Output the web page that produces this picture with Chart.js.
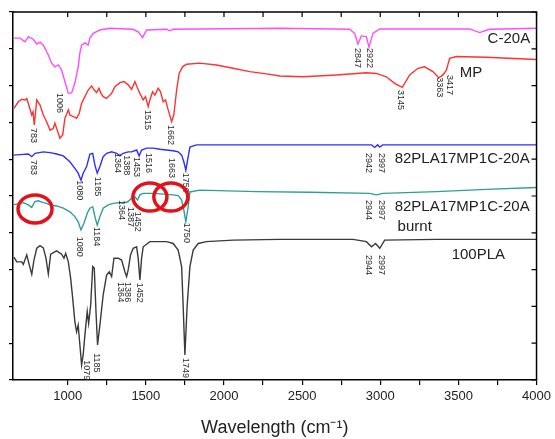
<!DOCTYPE html>
<html>
<head>
<meta charset="utf-8">
<script src="https://cdn.jsdelivr.net/npm/chart.js@4/dist/chart.umd.min.js"></script>
<style>
  html, body { margin: 0; padding: 0; background: #ffffff; }
  #wrap { width: 555px; height: 439px; }
</style>
</head>
<body>
<div id="wrap"><canvas id="c" width="555" height="439"></canvas></div>
<script>
// ---------- DATA (wavenumber, cm-1  /  offset transmittance, a.u.) ----------
const c20aWn = [656,695,727,748,780,802,823,844,876,897,918,940,961,982,1004,1025,1046,1067,1078,1089,1110,1131,1142,1163,1206,1270,1419,1451,1479,1505,1633,1654,1673,2357,2804,2836,2857,2879,2911,2928,2953,2996,3572,3636,3700,3998];
const c20aT  = [92.9,92.9,91.9,93.3,92.6,91.3,91.8,91.0,88.3,86.1,85.1,85.6,84.2,81.1,77.9,78.0,80.7,85.1,88.9,91.0,91.6,91.0,92.9,94.2,95.1,95.6,95.3,94.6,93.1,95.1,95.3,94.9,95.3,95.6,95.3,94.2,91.3,93.5,93.3,90.4,94.2,95.4,95.4,94.4,95.3,95.6];

const mpWn = [656,684,706,727,738,754,770,778,786,802,823,844,865,887,908,918,933,950,968,982,1004,1014,1036,1057,1074,1089,1110,1131,1153,1170,1185,1200,1213,1227,1249,1281,1302,1334,1360,1387,1409,1430,1445,1462,1483,1498,1515,1526,1543,1558,1579,1594,1611,1626,1643,1665,1679,1697,1713,1735,1760,1845,1952,2058,2165,2272,2357,2506,2719,2911,2975,3039,3092,3141,3188,3241,3284,3337,3375,3401,3423,3444,3487,3678,3998];
const mpT  = [73.8,75.6,76.3,76.1,76.5,74.3,72.0,72.9,69.3,76.1,74.7,72.0,70.2,67.9,68.4,69.8,67.9,65.7,66.6,71.1,73.4,72.0,71.6,71.1,72.5,75.2,77.0,78.8,79.9,78.8,78.1,79.3,77.9,77.0,76.5,77.9,79.7,80.8,81.1,80.2,79.0,81.1,79.5,77.9,76.1,77.0,74.3,76.1,78.3,77.4,79.3,78.3,75.6,76.1,73.4,70.2,72.0,78.8,83.3,85.1,85.8,86.1,85.6,84.7,83.8,83.2,82.6,82.4,82.9,83.5,83.3,82.4,80.6,79.5,82.9,84.7,85.1,83.8,82.1,82.9,84.2,87.4,87.9,87.7,87.1];

const blendWn = [652,716,748,770,791,844,887,929,972,1014,1046,1067,1085,1099,1121,1142,1160,1174,1189,1206,1227,1249,1281,1313,1334,1355,1387,1409,1441,1457,1473,1505,1547,1590,1633,1675,1707,1729,1743,1756,1771,1782,1824,2485,2945,2964,2983,2996,3016,3998];
const blendT  = [61.1,61.3,61.4,60.7,61.6,62.0,61.8,61.4,60.9,59.3,57.5,56.2,54.3,56.2,58.0,61.4,61.6,58.4,56.2,58.0,60.7,61.6,62.0,61.6,60.9,61.6,62.0,62.0,62.5,60.9,62.5,63.0,63.0,62.7,62.5,62.3,62.0,61.1,59.3,57.0,60.7,63.3,63.9,63.9,63.9,63.2,63.9,63.3,63.9,63.9];

const burntWn = [652,716,748,770,791,812,844,865,887,929,972,1014,1046,1067,1085,1104,1125,1142,1160,1174,1189,1206,1227,1259,1291,1323,1355,1387,1409,1430,1447,1462,1483,1547,1611,1675,1707,1729,1743,1756,1771,1782,1845,2208,2549,2932,2975,3017,3359,3678,3998];
const burntT  = [47.6,48.2,47.6,46.9,48.5,48.7,48.2,48.0,47.6,47.3,46.7,45.7,44.4,43.0,40.8,42.6,45.3,46.7,47.1,44.4,42.1,44.4,46.7,47.6,48.0,48.2,48.0,48.5,49.4,49.8,48.9,50.3,50.7,50.7,50.5,50.3,50.1,48.9,46.2,43.0,47.1,51.1,51.6,51.2,51.0,50.7,50.3,50.7,51.2,51.8,52.3];

const plaWn = [656,674,706,716,738,754,770,784,802,823,844,861,876,891,929,961,976,987,1004,1019,1032,1046,1057,1067,1078,1089,1099,1110,1125,1134,1147,1160,1170,1181,1191,1206,1227,1249,1266,1281,1296,1323,1345,1366,1377,1387,1402,1419,1441,1451,1462,1473,1483,1526,1633,1675,1707,1729,1739,1750,1764,1782,1803,1835,1888,2058,2357,2826,2911,2944,2970,2997,3028,3359,3998];
const plaT  = [33.4,32.1,32.1,31.4,34.0,31.3,28.7,32.6,35.8,36.5,35.9,33.1,28.8,34.2,35.1,34.2,33.1,34.4,32.1,27.6,22.2,15.8,13.1,14.9,9.5,4.1,6.8,12.2,18.6,15.4,20.4,30.8,30.4,18.6,9.5,14.9,23.1,28.5,29.4,28.1,33.1,33.1,32.6,29.4,28.1,29.9,34.0,35.8,36.2,33.1,27.2,33.1,36.2,37.6,37.6,37.1,35.3,30.8,19.9,6.8,19.9,30.8,35.3,37.1,37.6,38.0,38.2,38.2,37.6,36.2,37.1,35.8,38.0,38.2,38.2];

// x-axis tick labels
const xTickLabels = [1000,1500,2000,2500,3000,3500,4000];

// series names (text, anchor wavenumber, anchor value)
const seriesNames = ["C-20A","MP","82PLA17MP1C-20A","82PLA17MP1C-20A","burnt","100PLA"];
const seriesNameWn = [3687,3508,3092,3092,3111,3457];
const seriesNameT  = [92.7,83.4,60.1,47.0,41.6,34.0];

// peak labels (text, wavenumber, value at top of label)
const peakText = ["1006","2847","2922",
  "783","1515","1662","3145","3363","3417",
  "783","1080","1185","1364","1388","1453","1516","1663","1750","2942","2997",
  "1080","1184","1364","1387","1452","1750","2944","2997",
  "1364","1386","1452","1079","1185","1749","2944","2997"];
const peakWn = [950,2856,2932,
  778,1513,1660,3130,3380,3444,
  778,1078,1193,1321,1379,1443,1519,1667,1756,2926,3009,
  1078,1187,1347,1404,1449,1762,2926,3009,
  1340,1385,1462,1123,1181,1756,2926,3009];
const peakT = [78.0,90.2,90.2,
  68.5,73.4,69.3,78.8,82.3,82.9,
  59.8,54.3,55.2,61.7,61.1,60.6,61.7,60.3,56.3,61.7,61.7,
  38.9,41.6,48.9,47.0,45.7,42.7,48.9,48.9,
  26.6,26.6,26.4,5.4,7.3,6.0,34.0,34.0];

// highlight rings (wavenumber, value)
const ringWn = [791,1526,1660];
const ringT  = [46.5,49.7,49.7];

// ---------- build ----------
const toXY = (xs, ys) => xs.map((x, i) => ({x, y: ys[i]}));
const FONT = '"Liberation Sans", Arial, sans-serif';

const annotations = {
  id: 'annotations',
  afterDatasetsDraw(chart) {
    const {ctx, scales: {x, y}} = chart;
    ctx.save();
    ctx.font = '9px ' + FONT;
    ctx.fillStyle = '#2a2a2a';
    ctx.textAlign = 'left';
    ctx.textBaseline = 'middle';
    peakText.forEach((t, i) => {
      ctx.save();
      ctx.translate(x.getPixelForValue(peakWn[i]), y.getPixelForValue(peakT[i]));
      ctx.rotate(Math.PI / 2);
      ctx.fillText(t, 0, 0);
      ctx.restore();
    });
    ctx.font = '15px ' + FONT;
    ctx.fillStyle = '#222';
    seriesNames.forEach((t, i) => {
      ctx.fillText(t, x.getPixelForValue(seriesNameWn[i]), y.getPixelForValue(seriesNameT[i]));
    });
    ctx.strokeStyle = '#e3121a';
    ctx.lineWidth = 3.5;
    ringWn.forEach((w, i) => {
      ctx.beginPath();
      ctx.ellipse(x.getPixelForValue(w), y.getPixelForValue(ringT[i]), 17, 14, 0, 0, Math.PI * 2);
      ctx.stroke();
    });
    ctx.restore();
  },
  afterDraw(chart) {
    const {ctx, chartArea: {left, right, top, bottom}, scales: {x, y}} = chart;
    ctx.save();
    ctx.strokeStyle = '#000';
    ctx.lineWidth = 1.5;
    ctx.beginPath();
    ctx.moveTo(left, top); ctx.lineTo(right, top); ctx.lineTo(right, bottom);
    ctx.stroke();
    ctx.lineWidth = 1.2;
    ctx.beginPath();
    x.ticks.forEach(t => {
      const px = x.getPixelForValue(t.value);
      ctx.moveTo(px, top); ctx.lineTo(px, top + 5);
    });
    y.ticks.forEach(t => {
      const py = y.getPixelForValue(t.value);
      ctx.moveTo(right, py); ctx.lineTo(right - 5, py);
    });
    ctx.stroke();
    ctx.restore();
  }
};

const lineDs = (label, xs, ys, color) => ({
  label, data: toXY(xs, ys), borderColor: color, borderWidth: 1.4,
  pointRadius: 0, tension: 0, fill: false
});

new Chart(document.getElementById('c'), {
  type: 'line',
  data: {
    datasets: [
      lineDs('C-20A', c20aWn, c20aT, '#ff4cff'),
      lineDs('MP', mpWn, mpT, '#ff3232'),
      lineDs('82PLA17MP1C-20A', blendWn, blendT, '#2e2eff'),
      lineDs('82PLA17MP1C-20A burnt', burntWn, burntT, '#2f9e98'),
      lineDs('100PLA', plaWn, plaT, '#3a3a3a')
    ]
  },
  options: {
    responsive: false,
    animation: false,
    layout: { padding: { top: 12, right: 18, left: 0, bottom: 0 } },
    plugins: { legend: { display: false }, tooltip: { enabled: false } },
    scales: {
      x: {
        type: 'linear', position: 'bottom', min: 650, max: 4000,
        afterBuildTicks: s => { s.ticks = s.ticks.filter(t => t.value % 250 === 0); },
        ticks: {
          stepSize: 250, autoSkip: false, maxRotation: 0, padding: 4,
          color: '#222', font: { size: 13, family: FONT },
          callback: v => xTickLabels.includes(v) ? String(v) : ''
        },
        grid: { drawOnChartArea: false, drawTicks: true, tickLength: 5, color: '#000', lineWidth: 1.2 },
        border: { display: true, color: '#000', width: 1.5 },
        title: { display: true, text: 'Wavelength (cm⁻¹)', color: '#222', font: { size: 18, family: FONT }, padding: 0 },
        afterFit: s => { s.height = 59; }
      },
      y: {
        type: 'linear', min: 0, max: 100,
        ticks: { stepSize: 10, display: false },
        grid: { drawOnChartArea: false, drawTicks: true, tickLength: 4, color: '#000', lineWidth: 1.2 },
        border: { display: true, color: '#000', width: 1.5 },
        afterFit: s => { s.width = 13; }
      }
    }
  },
  plugins: [annotations]
});
</script>
</body>
</html>
